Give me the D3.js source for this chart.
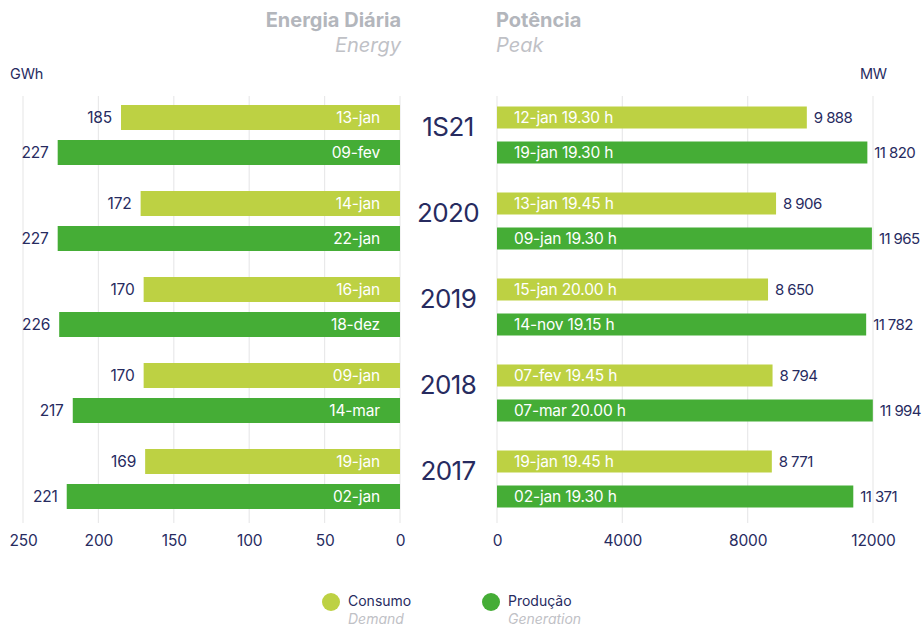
<!DOCTYPE html>
<html><head><meta charset="utf-8">
<script src="https://cdn.jsdelivr.net/npm/d3@7/dist/d3.min.js"></script>
<style>
body{margin:0;background:#fff;}
svg{display:block;font-family:Inter,"Noto Sans",sans-serif;}
</style></head>
<body><svg id="c" width="924" height="628"></svg>
<script>
const periods = ["1S21","2020","2019","2018","2017"];
const energyDemand = [185,172,170,170,169];
const energyDemandDates = ["13-jan","14-jan","16-jan","09-jan","19-jan"];
const energyGen = [227,227,226,217,221];
const energyGenDates = ["09-fev","22-jan","18-dez","14-mar","02-jan"];
const peakDemand = [9888,8906,8650,8794,8771];
const peakDemandDates = ["12-jan 19.30 h","13-jan 19.45 h","15-jan 20.00 h","07-fev 19.45 h","19-jan 19.45 h"];
const peakGen = [11820,11965,11782,11994,11371];
const peakGenDates = ["19-jan 19.30 h","09-jan 19.30 h","14-nov 19.15 h","07-mar 20.00 h","02-jan 19.30 h"];
const energyTicks = [250,200,150,100,50,0];
const peakTicks = [0,4000,8000,12000];
const seriesKeys = ["Consumo","Produção"];
const seriesSub = ["Demand","Generation"];

const C_LIGHT="#bdd143", C_DARK="#45ad36", NAVY="#272b5f", GRID="#e9e9ea";
const fmt = d3.formatLocale({decimal:",",thousands:" ",grouping:[3],currency:["",""]}).format(",d");

const svg = d3.select("#c");
const xL = d3.scaleLinear().domain([0,250]).range([400,23]);
const xR = d3.scaleLinear().domain([0,12000]).range([497,873]);
const yG = d3.scaleBand().domain(periods).range([92,522]);
const yI = d3.scalePoint().domain(seriesKeys).range([25.5,60.5]);
const gridTop=96, gridBot=523;
const LS="-0.15";

svg.append("g").selectAll("line").data(energyTicks).join("line")
  .attr("x1",d=>xL(d)).attr("x2",d=>xL(d)).attr("y1",gridTop).attr("y2",gridBot)
  .attr("stroke",GRID).attr("stroke-width",1.2);
svg.append("g").selectAll("line").data(peakTicks).join("line")
  .attr("x1",d=>xR(d)).attr("x2",d=>xR(d)).attr("y1",gridTop).attr("y2",gridBot)
  .attr("stroke",GRID).attr("stroke-width",1.2);

const axL = svg.append("g").attr("transform",`translate(0,${gridBot})`)
  .call(d3.axisBottom(xL).tickValues(energyTicks).tickSize(0).tickPadding(12).tickFormat(d3.format("d")));
const axR = svg.append("g").attr("transform",`translate(0,${gridBot})`)
  .call(d3.axisBottom(xR).tickValues(peakTicks).tickSize(0).tickPadding(12).tickFormat(d3.format("d")));
[axL,axR].forEach(a=>{a.select(".domain").remove();
  a.selectAll("text").attr("fill",NAVY).attr("font-size",15.5).attr("font-family","Inter").attr("letter-spacing",LS);});

function rows(vals,dates,key){return periods.map((p,i)=>({p,v:vals[i],d:dates[i],k:key}));}
const leftRows = rows(energyDemand,energyDemandDates,"Consumo").concat(rows(energyGen,energyGenDates,"Produção"));
const rightRows = rows(peakDemand,peakDemandDates,"Consumo").concat(rows(peakGen,peakGenDates,"Produção"));
const cy = r => yG(r.p)+yI(r.k);
const col = r => r.k==="Consumo"?C_LIGHT:C_DARK;
const hL=25, hR=22;

const gl = svg.append("g");
gl.selectAll("rect").data(leftRows).join("rect")
  .attr("x",r=>xL(r.v)).attr("width",r=>xL(0)-xL(r.v))
  .attr("y",r=>cy(r)-hL/2).attr("height",hL).attr("fill",col);
gl.selectAll("text.d").data(leftRows).join("text").attr("class","d")
  .attr("x",xL(0)-20).attr("y",r=>cy(r)+5.5).attr("text-anchor","end")
  .attr("fill","#fff").attr("font-size",15.5).attr("letter-spacing",LS).text(r=>r.d);
gl.selectAll("text.v").data(leftRows).join("text").attr("class","v")
  .attr("x",r=>xL(r.v)-9).attr("y",r=>cy(r)+5.5).attr("text-anchor","end")
  .attr("fill",NAVY).attr("font-size",15.5).attr("letter-spacing",LS).text(r=>fmt(r.v));

const gr = svg.append("g");
gr.selectAll("rect").data(rightRows).join("rect")
  .attr("x",xR(0)).attr("width",r=>xR(r.v)-xR(0))
  .attr("y",r=>cy(r)-hR/2).attr("height",hR).attr("fill",col);
gr.selectAll("text.d").data(rightRows).join("text").attr("class","d")
  .attr("x",xR(0)+17).attr("y",r=>cy(r)+5.5)
  .attr("fill","#fff").attr("font-size",15.5).attr("letter-spacing",LS).text(r=>r.d);
gr.selectAll("text.v").data(rightRows).join("text").attr("class","v")
  .attr("x",r=>xR(r.v)+7).attr("y",r=>cy(r)+5.5)
  .attr("fill",NAVY).attr("font-size",15).attr("letter-spacing","-0.6").text(r=>fmt(r.v));

svg.append("g").selectAll("text").data(periods).join("text")
  .attr("x",448).attr("y",p=>yG(p)+yG.bandwidth()/2+1)
  .attr("text-anchor","middle").attr("fill",NAVY).attr("font-size",26).attr("letter-spacing","-0.6").text(p=>p);

const t = svg.append("g");
t.append("text").attr("x",401).attr("y",27).attr("text-anchor","end").attr("font-size",20).attr("font-weight",700)
  .attr("fill","#b3b6bc").attr("letter-spacing","0").text("Energia Diária");
t.append("text").attr("x",401).attr("y",52).attr("text-anchor","end").attr("font-size",20).attr("font-style","italic")
  .attr("fill","#bfc1c6").attr("letter-spacing","0").text("Energy");
t.append("text").attr("x",496).attr("y",27).attr("font-size",20).attr("font-weight",700)
  .attr("fill","#b3b6bc").attr("letter-spacing","0").text("Potência");
t.append("text").attr("x",496).attr("y",52).attr("font-size",20).attr("font-style","italic")
  .attr("fill","#bfc1c6").attr("letter-spacing","0").text("Peak");
t.append("text").attr("x",10).attr("y",79).attr("font-size",14.5).attr("fill",NAVY).attr("letter-spacing",LS).text("GWh");
t.append("text").attr("x",887).attr("y",79).attr("text-anchor","end").attr("font-size",14.5).attr("fill",NAVY).attr("letter-spacing",LS).text("MW");

const lg = svg.append("g").selectAll("g").data(seriesKeys).join("g")
  .attr("transform",(d,i)=>`translate(${331+i*160},602)`);
lg.append("circle").attr("r",9).attr("fill",(d,i)=>i?C_DARK:C_LIGHT);
lg.append("text").attr("x",17).attr("y",4).attr("font-size",14).attr("fill",NAVY).attr("letter-spacing","0").text(d=>d);
lg.append("text").attr("x",17).attr("y",22).attr("font-size",14).attr("font-style","italic").attr("fill","#bfc1c6").attr("letter-spacing","0").text((d,i)=>seriesSub[i]);
</script></body></html>
